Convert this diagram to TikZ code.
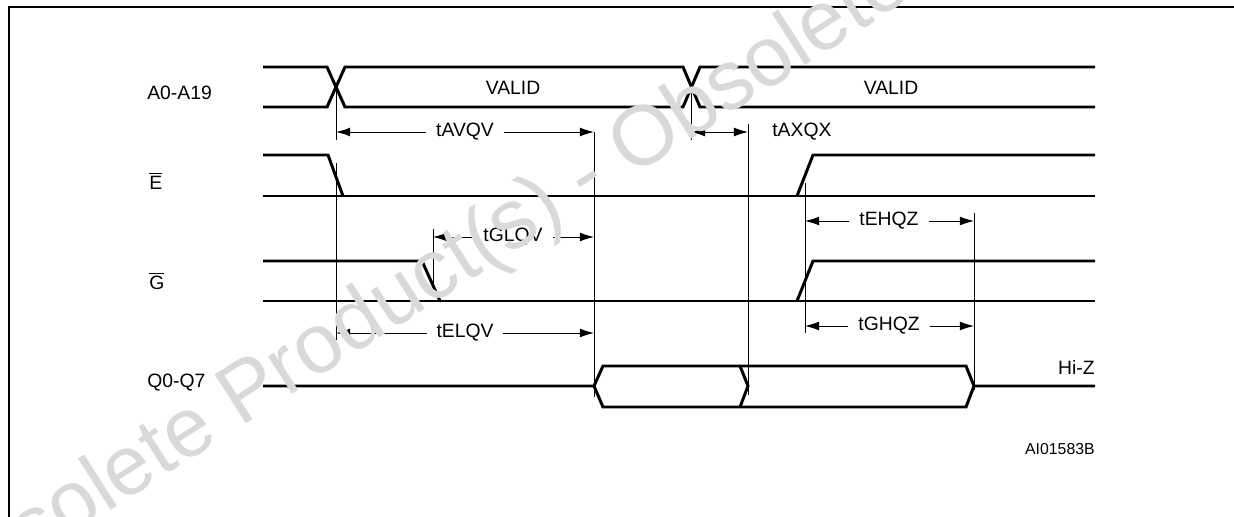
\documentclass[tikz,border=0pt]{standalone}
\usepackage{fontspec}
\setmainfont{Liberation Sans}
\usepackage{amsmath}
\usetikzlibrary{arrows.meta}

\begin{document}
\begin{tikzpicture}[x=0.02cm, y=-0.02cm,
  wave/.style={line width=1.7pt},
  guide/.style={line width=0.5pt},
  span/.style={line width=0.5pt, -{Latex[length=8pt,width=5pt]}},
  dimlabel/.style={inner xsep=5.5pt, inner ysep=0pt, font=\fontsize{11}{13}\selectfont}]
\useasboundingbox (0,0) rectangle (1234,517);
\draw[line width=1.1pt] (9,517) -- (9,7) -- (1234,7);

% signal names
\begin{scope}[every node/.style={anchor=west, inner sep=0pt, font=\fontsize{11}{13}\selectfont}]
  \draw node (nA) at (147,93) {A0-A19};
  \draw node (nE) at (149,181) {$\overline{\mbox{E}}$};
  \draw node (nG) at (149,281) {$\overline{\mbox{G}}$};
  \draw node (nQ) at (147,383) {Q0-Q7};
\end{scope}

% waveforms
\draw[wave] (263,67)--(327,67)--(345,107)--(683,107)--(700,67)--(1095,67);
\draw[wave] (263,107)--(327,107)--(345,67)--(683,67)--(700,107)--(1095,107);
\draw[wave] (263,196)--(1095,196);
\draw[wave] (263,155)--(328,155)--(343,196);
\draw[wave] (797,196)--(813,155)--(1095,155);
\draw[wave] (263,301)--(1095,301);
\draw[wave] (263,261)--(422,261)--(440,301);
\draw[wave] (797,301)--(813,261)--(1095,261);
\draw[wave] (263,386)--(594,386)--(603,366)--(966,366)--(974,386)--(1095,386);
\draw[wave] (594,386)--(603,407)--(966,407)--(974,386);
\draw[wave] (740,366)--(748,386)--(740,407);

\begin{scope}[every node/.style={inner sep=0pt, font=\fontsize{11}{13}\selectfont}]
  \draw node (v1) at (513,88) {VALID};
  \draw node (v2) at (891,88) {VALID};
  \draw node[anchor=east] (hz) at (1095,367) {Hi-Z};
  \draw node[anchor=east, font=\fontsize{9}{11}\selectfont] (ai) at (1095,449) {AI01583B};
\end{scope}

% timing guides
\draw[guide] (336,87)--(336,140);
\draw[guide] (336,163)--(336,340);
\draw[guide] (594,132)--(594,397);
\draw[guide] (691,85)--(691,140);
\draw[guide] (748,124)--(748,395);
\draw[guide] (433,229)--(433,290);
\draw[guide] (805,183)--(805,333);
\draw[guide] (974,213)--(974,390);

\coordinate (avqvL) at (336,132);
\coordinate (avqvR) at (594,132);
\coordinate (axqxL) at (691,132);
\coordinate (axqxR) at (748,132);
\coordinate (glqvL) at (433,237);
\coordinate (glqvR) at (594,237);
\coordinate (elqvL) at (336,333);
\coordinate (elqvR) at (594,333);
\coordinate (ehqzL) at (805,221);
\coordinate (ehqzR) at (974,221);
\coordinate (ghqzL) at (805,326);
\coordinate (ghqzR) at (974,326);

\node[dimlabel] (tavqv) at (465,132) {tAVQV};
\node[dimlabel] (tglqv) at (513,237) {tGLQV};
\node[dimlabel] (telqv) at (465,333) {tELQV};
\node[dimlabel] (tehqz) at (889,221) {tEHQZ};
\node[dimlabel] (tghqz) at (889,326) {tGHQZ};
\node[dimlabel, anchor=west, inner xsep=0pt] (taxqx) at (772,132) {tAXQX};

\draw[span] (tavqv) -- (avqvL);
\draw[span] (tavqv) -- (avqvR);
\draw[span] (tglqv) -- (glqvL);
\draw[span] (tglqv) -- (glqvR);
\draw[span] (telqv) -- (elqvL);
\draw[span] (telqv) -- (elqvR);
\draw[span] (tehqz) -- (ehqzL);
\draw[span] (tehqz) -- (ehqzR);
\draw[span] (tghqz) -- (ghqzL);
\draw[span] (tghqz) -- (ghqzR);
\draw[span, {Latex[length=8pt,width=5pt]}-{Latex[length=8pt,width=5pt]}] (axqxL) -- (axqxR);

% watermark
\node[rotate=32.6, anchor=base west, inner sep=0pt, text=gray!30,
  font=\fontsize{48}{54}\selectfont] (wm) at (-64,622) {Obsolete Product(s) - Obsolete Product(s)};
\end{tikzpicture}
\end{document}
